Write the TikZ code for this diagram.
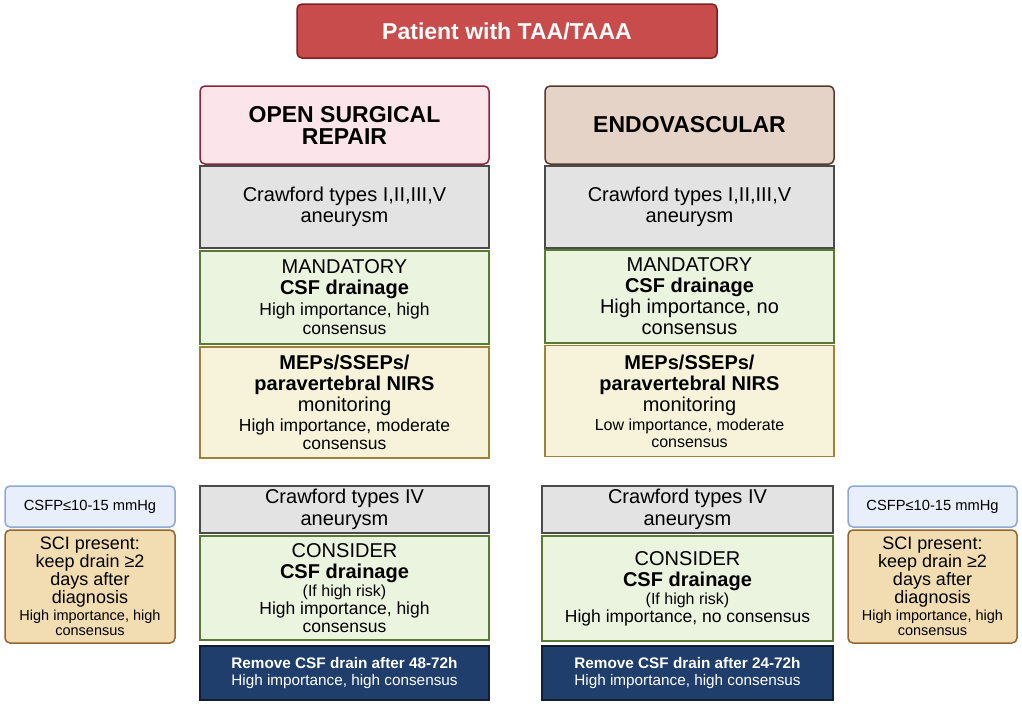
\documentclass[tikz,border=0pt]{standalone}
\usepackage{fontspec}
\setmainfont{Liberation Sans}
\newcommand{\fsz}[2]{\fontsize{#1}{#2}\selectfont}
\definecolor{titlered}{RGB}{201,76,76}
\definecolor{titleborder}{RGB}{130,30,30}
\definecolor{osrfill}{RGB}{251,229,234}
\definecolor{osrborder}{RGB}{140,35,65}
\definecolor{endofill}{RGB}{230,211,199}
\definecolor{endoborder}{RGB}{85,58,45}
\definecolor{grayfill}{RGB}{227,227,227}
\definecolor{grayborder}{RGB}{75,75,75}
\definecolor{greenfill}{RGB}{235,244,222}
\definecolor{greenborder}{RGB}{88,122,50}
\definecolor{yellowfill}{RGB}{246,243,218}
\definecolor{yellowborder}{RGB}{160,130,55}
\definecolor{bluefill}{RGB}{232,239,250}
\definecolor{blueborder}{RGB}{140,170,215}
\definecolor{tanfill}{RGB}{242,221,178}
\definecolor{tanborder}{RGB}{150,100,45}
\definecolor{navyfill}{RGB}{31,62,108}
\definecolor{navyborder}{RGB}{20,30,50}
\tikzset{
  box/.style={draw, line width=1.5pt, inner sep=2pt, align=center, text=black},
  rbox/.style={box, rounded corners=5pt},
  colw/.style={minimum width=289pt},
  head/.style={rbox, colw, minimum height=78pt, font=\fsz{23}{22}\bfseries},
  graybox/.style={box, colw, fill=grayfill, draw=grayborder, font=\fsz{20}{21.5}},
  greenbox/.style={box, colw, fill=greenfill, draw=greenborder, font=\fsz{20}{21}},
  yellowbox/.style={box, colw, fill=yellowfill, draw=yellowborder, font=\fsz{20}{21}},
  navybox/.style={box, colw, fill=navyfill, draw=navyborder, text=white, font=\fsz{15.3}{17}},
  csfpbox/.style={rbox, fill=bluefill, draw=blueborder, minimum width=170pt, minimum height=41pt, font=\fsz{14.7}{17}},
  scibox/.style={rbox, fill=tanfill, draw=tanborder, minimum width=170pt, minimum height=113pt, font=\fsz{18}{18}},
}
\begin{document}
\begin{tikzpicture}[x=1pt,y=-1pt]
\useasboundingbox (0,0) rectangle (1022,707);
% title
\node[rbox, fill=titlered, draw=titleborder, text=white, font=\fsz{23}{26}\bfseries,
      minimum width=420pt, minimum height=54pt] (title) at (507,31) {Patient with TAA/TAAA};
% headers
\node[head, fill=osrfill, draw=osrborder] (osr) at (344.5,125) {OPEN SURGICAL\\REPAIR};
\node[head, fill=endofill, draw=endoborder] (endo) at (689.5,125) {ENDOVASCULAR};
% Crawford I-V
\node[graybox, minimum height=82pt] (crL) at (344.5,207) {Crawford types I,II,III,V\\aneurysm};
\node[graybox, minimum height=82pt] (crR) at (689.5,207) {Crawford types I,II,III,V\\aneurysm};
% mandatory
\node[greenbox, minimum height=93pt] (manL) at (344.5,297.5)
  {MANDATORY\\\textbf{CSF drainage}\\{\fsz{17.5}{20}High importance, high}\\[-2pt]{\fsz{17.5}{20}consensus}};
\node[greenbox, minimum height=93pt] (manR) at (689.5,296.5)
  {MANDATORY\\\textbf{CSF drainage}\\High importance, no\\consensus};
% monitoring
\node[yellowbox, minimum height=111pt] (mepL) at (344.5,402.5)
  {\textbf{MEPs/SSEPs/}\\\textbf{paravertebral NIRS}\\monitoring\\[-1pt]{\fsz{17.5}{20}High importance, moderate}\\[-3pt]{\fsz{17.5}{20}consensus}};
\node[yellowbox, minimum height=111pt] (mepR) at (689.5,401)
  {\textbf{MEPs/SSEPs/}\\\textbf{paravertebral NIRS}\\monitoring\\[-2pt]{\fsz{16}{18}Low importance, moderate}\\[-4pt]{\fsz{16}{18}consensus}};
% Crawford IV
\node[graybox, minimum height=47pt] (c4L) at (344.5,509.5) {Crawford types IV\\aneurysm};
\node[graybox, minimum width=291pt, minimum height=47pt] (c4R) at (687.5,509.5) {Crawford types IV\\aneurysm};
% consider
\node[greenbox, minimum height=104pt] (conL) at (344.5,588)
  {CONSIDER\\\textbf{CSF drainage}\\[-3pt]{\fsz{16}{18}(If high risk)}\\[-3pt]{\fsz{17.5}{20}High importance, high}\\[-3pt]{\fsz{17.5}{20}consensus}};
\node[greenbox, minimum width=291pt, minimum height=105pt] (conR) at (687.5,588.5)
  {CONSIDER\\\textbf{CSF drainage}\\[-3pt]{\fsz{16}{18}(If high risk)}\\[-3pt]{\fsz{17.5}{20}High importance, no consensus}};
% remove
\node[navybox, minimum height=54pt] (remL) at (344.5,673)
  {\textbf{Remove CSF drain after 48-72h}\\High importance, high consensus};
\node[navybox, minimum width=291pt, minimum height=54pt] (remR) at (687.5,673)
  {\textbf{Remove CSF drain after 24-72h}\\High importance, high consensus};
% side boxes
\node[csfpbox] (csfpL) at (90,506.5) {CSFP≤10-15 mmHg};
\node[scibox] (sciL) at (90,586.5)
  {SCI present:\\keep drain ≥2\\days after\\diagnosis\\[-1pt]{\fsz{14.5}{16}High importance, high}\\[-3pt]{\fsz{14.5}{16}consensus}};
\node[csfpbox, minimum width=169pt] (csfpR) at (932.5,506.5) {CSFP≤10-15 mmHg};
\node[scibox, minimum width=169pt] (sciR) at (932.5,586.5)
  {SCI present:\\keep drain ≥2\\days after\\diagnosis\\[-1pt]{\fsz{14.5}{16}High importance, high}\\[-3pt]{\fsz{14.5}{16}consensus}};
\end{tikzpicture}
\end{document}
